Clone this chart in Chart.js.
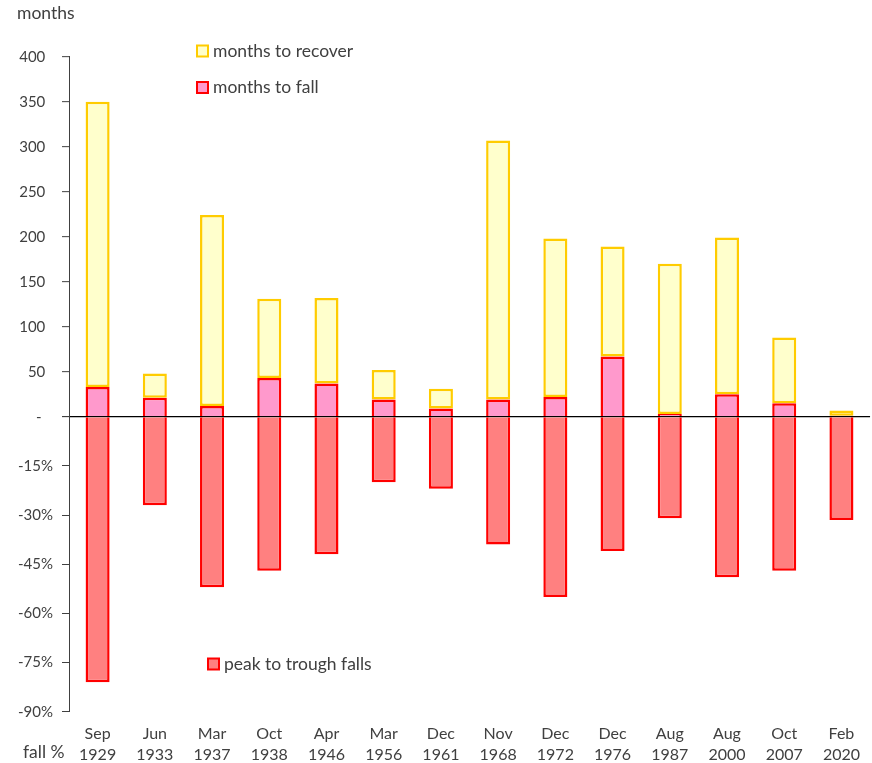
<!DOCTYPE html>
<html>
<head>
<meta charset="utf-8">
<script src="https://cdn.jsdelivr.net/npm/chart.js@4"></script>
<style>
  body { margin: 0; background: #fff; }
  #wrap { width: 872px; height: 763px; }
</style>
</head>
<body>
<div id="wrap"><canvas id="crashChart"></canvas></div>
<script>
const categories = [['Sep', '1929'], ['Jun', '1933'], ['Mar', '1937'], ['Oct', '1938'], ['Apr', '1946'],
  ['Mar', '1956'], ['Dec', '1961'], ['Nov', '1968'], ['Dec', '1972'], ['Dec', '1976'],
  ['Aug', '1987'], ['Aug', '2000'], ['Oct', '2007'], ['Feb', '2020']];
const monthsToFall = [33, 21, 12, 43, 37, 19, 9, 19, 22, 67, 3, 25, 15, 1];
const monthsToRecover = [317, 27, 212, 88, 95, 33, 22, 288, 176, 122, 167, 174, 73, 6];
const peakToTrough = [-81, -27, -52, -47, -42, -20, -22, -39, -55, -41, -31, -49, -47, -31.5];
const monthTicks = [0, 50, 100, 150, 200, 250, 300, 350, 400];
const fallTicks = [-90, -75, -60, -45, -30, -15, 0];

const textColor = '#404040';
Chart.defaults.font.family = 'Lato';
Chart.defaults.font.size = 15;
Chart.defaults.color = textColor;

// legend boxes and the two axis captions sit at fixed spots inside the plot
const notes = {
  id: 'notes',
  afterDraw(chart) {
    const ctx = chart.ctx;
    ctx.save();
    ctx.font = '17.5px Lato';
    ctx.fillStyle = textColor;
    ctx.textBaseline = 'middle';
    ctx.fillText('months', 17, 13);
    ctx.fillText('fall %', 23, 752);

    const items = [
      {x: 197, y: 51, fill: '#FFFFCC', line: '#FFCC00', text: 'months to recover'},
      {x: 197, y: 87.5, fill: '#FF99CC', line: '#FF0000', text: 'months to fall'},
      {x: 208, y: 664, fill: '#FF8080', line: '#FF0000', text: 'peak to trough falls'}
    ];
    items.forEach(it => {
      ctx.fillStyle = it.fill;
      ctx.fillRect(it.x, it.y - 5.5, 11, 11);
      ctx.strokeStyle = it.line;
      ctx.lineWidth = 2;
      ctx.strokeRect(it.x, it.y - 5.5, 11, 11);
      ctx.fillStyle = textColor;
      ctx.fillText(it.text, it.x + 16, it.y);
    });
    ctx.restore();
  }
};

new Chart(document.getElementById('crashChart'), {
  type: 'bar',
  data: {
    labels: categories,
    datasets: [
      {
        label: 'months to fall',
        data: monthsToFall,
        yAxisID: 'y',
        stack: 'a',
        backgroundColor: '#FF99CC',
        borderColor: '#FF0000',
        borderWidth: 2.5,
        borderSkipped: 'start'
      },
      {
        label: 'months to recover',
        data: monthsToRecover,
        yAxisID: 'y',
        stack: 'a',
        backgroundColor: '#FFFFCC',
        borderColor: '#FFCC00',
        borderWidth: 2.5,
        borderSkipped: false
      },
      {
        label: 'peak to trough falls',
        data: peakToTrough,
        yAxisID: 'y2',
        stack: 'a',
        backgroundColor: '#FF8080',
        borderColor: '#FF0000',
        borderWidth: 2.5,
        borderSkipped: 'start'
      }
    ]
  },
  options: {
    responsive: true,
    maintainAspectRatio: false,
    animation: false,
    layout: { padding: { top: 56.7, right: 0, bottom: 0, left: 0 } },
    datasets: { bar: { categoryPercentage: 1, barPercentage: 0.42 } },
    plugins: {
      legend: { display: false },
      tooltip: { enabled: false }
    },
    scales: {
      x: {
        stacked: true,
        grid: { display: false, drawTicks: false },
        border: { display: false },
        afterFit: s => { s.height = 51.3; },
        ticks: { padding: 12, font: { size: 16, lineHeight: 1.31 }, maxRotation: 0, autoSkip: false }
      },
      // the lower (fall %) axis is listed first so the stack puts it underneath
      y2: {
        position: 'left',
        stack: 'split',
        stackWeight: 295,
        min: -90,
        max: 0,
        afterBuildTicks: s => { s.ticks = fallTicks.map(v => ({ value: v })); },
        afterFit: s => { s.width = 69; },
        ticks: { padding: 9, callback: v => v === 0 ? '' : v + '%' },
        grid: { drawOnChartArea: false, tickColor: textColor, tickWidth: 1, tickLength: 7 },
        border: { color: textColor, width: 1 }
      },
      y: {
        position: 'left',
        stack: 'split',
        stackWeight: 360,
        stacked: true,
        min: 0,
        max: 400,
        z: 1,
        afterBuildTicks: s => { s.ticks = monthTicks.map(v => ({ value: v })); },
        afterFit: s => { s.width = 69; },
        ticks: { padding: 9, callback: v => v === 0 ? '-   ' : v + '  ' },
        grid: {
          color: c => (c.tick && c.tick.value === 0) ? '#000000' : 'rgba(0,0,0,0)',
          lineWidth: 1.3,
          tickColor: textColor,
          tickWidth: 1,
          tickLength: 7
        },
        border: { color: textColor, width: 1 }
      }
    }
  },
  plugins: [notes]
});
</script>
</body>
</html>
